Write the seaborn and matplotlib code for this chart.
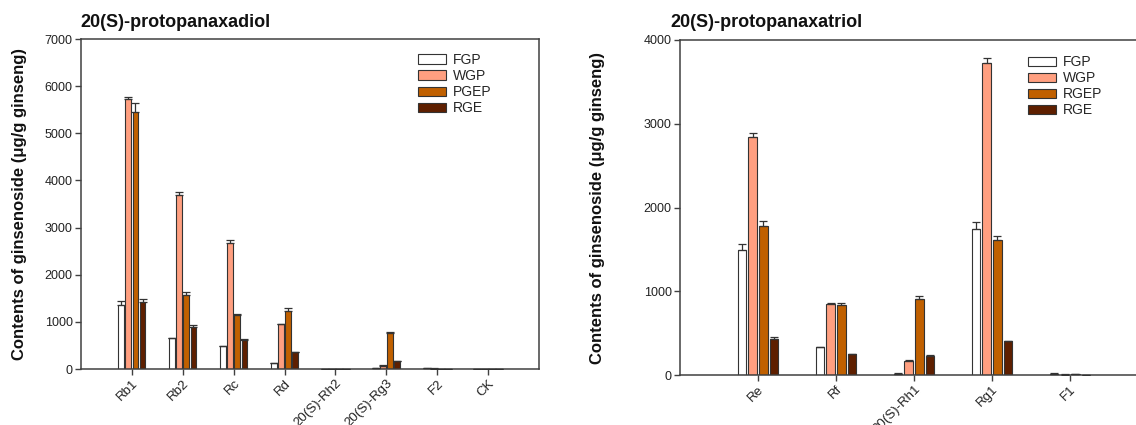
import numpy as np
import pandas as pd
import matplotlib
matplotlib.use("Agg")
import matplotlib.pyplot as plt
import seaborn as sns
from matplotlib.patches import Patch

# ---------------- data ----------------
ppd_categories = ["Rb1", "Rb2", "Rc", "Rd", "20(S)-Rh2", "20(S)-Rg3", "F2", "CK"]
ppd_groups = ["FGP", "WGP", "PGEP", "RGE"]
ppd_fgp = [1367, 652, 482, 120, 0, 20, 20, 2]
ppd_wgp = [5718, 3698, 2664, 949, 0, 55, 10, 3]
ppd_pgep = [5441, 1580, 1141, 1240, 0, 760, 5, 5]
ppd_rge = [1431, 886, 609, 361, 0, 165, 5, 3]
ppd_fgp_err = [85, 10, 14, 5, 0, 5, 5, 0]
ppd_wgp_err = [42, 57, 70, 7, 0, 20, 2, 0]
ppd_pgep_err = [206, 50, 28, 50, 0, 22, 2, 0]
ppd_rge_err = [50, 56, 36, 7, 0, 14, 2, 0]

ppt_categories = ["Re", "Rf", "20(S)-Rh1", "Rg1", "F1"]
ppt_groups = ["FGP", "WGP", "RGEP", "RGE"]
ppt_fgp = [1495, 334, 16, 1741, 15]
ppt_wgp = [2843, 847, 171, 3721, 5]
ppt_rgep = [1777, 839, 910, 1606, 8]
ppt_rge = [433, 250, 223, 406, 3]
ppt_fgp_err = [72, 4, 8, 84, 5]
ppt_wgp_err = [51, 8, 4, 60, 2]
ppt_rgep_err = [60, 16, 28, 48, 2]
ppt_rge_err = [16, 4, 20, 4, 1]

colors = ["#FFFFFF", "#FF9F80", "#C06000", "#5E1F00"]

ylabel = "Contents of ginsenoside (\u03bcg/g ginseng)"
title_left = "20(S)-protopanaxadiol"
title_right = "20(S)-protopanaxatriol"

# ---------------- style ----------------
sns.set_theme(style="ticks")
plt.rcParams["font.family"] = ["Liberation Sans", "DejaVu Sans"]
plt.rcParams["axes.edgecolor"] = "#404040"
plt.rcParams["axes.linewidth"] = 1.1
plt.rcParams["xtick.color"] = "#404040"
plt.rcParams["ytick.color"] = "#404040"
plt.rcParams["xtick.labelcolor"] = "#222222"
plt.rcParams["ytick.labelcolor"] = "#222222"

W, H = 1136, 425
fig = plt.figure(figsize=(W / 100, H / 100), dpi=100)
fig.patch.set_facecolor("white")


def px_axes(l, t, r, b):
    return fig.add_axes([l / W, 1 - b / H, (r - l) / W, (b - t) / H])


def make_df(cats, groups, vals, errs):
    rows = []
    for g, v, e in zip(groups, vals, errs):
        for c, vv, ee in zip(cats, v, e):
            rows.append({"cat": c, "grp": g, "val": vv, "err": ee})
    return pd.DataFrame(rows)


def draw_panel(ax, cats, groups, vals, errs, ymax, ystep, title, title_x,
               legend_xy, ylabel_x, gap):
    df = make_df(cats, groups, vals, errs)
    sns.barplot(data=df, x="cat", y="val", hue="grp", order=cats,
                hue_order=groups, palette=colors, width=0.56, gap=gap,
                edgecolor="#333333", linewidth=0.8, errorbar=None,
                legend=False, ax=ax, saturation=1)
    for cont, g in zip(ax.containers, groups):
        sub = df[df["grp"] == g].set_index("cat").loc[cats]
        xs = [p.get_x() + p.get_width() / 2 for p in cont.patches]
        ys = [p.get_height() for p in cont.patches]
        e = sub["err"].values
        ax.errorbar(xs, ys, yerr=[np.zeros_like(e), e], fmt="none",
                    ecolor="#333333", elinewidth=0.9, capsize=2.8,
                    capthick=0.9, zorder=3)
    ax.set_xlim(-1, len(cats))
    ax.set_ylim(0, ymax)
    ax.set_yticks(np.arange(0, ymax + 1, ystep))
    ax.set_xlabel("")
    ax.set_ylabel(ylabel, fontsize=12, fontweight="bold", color="#111111")
    ax.yaxis.set_label_coords(ylabel_x, 0.5)
    ax.tick_params(axis="y", labelsize=9, length=4, width=1, pad=2)
    ax.tick_params(axis="x", labelsize=9.5, length=4, width=1, pad=2)
    for lab in ax.get_xticklabels():
        lab.set_rotation(45)
        lab.set_ha("right")
        lab.set_rotation_mode("anchor")
    for s in ax.spines.values():
        s.set_visible(True)
    handles = [Patch(facecolor=c, edgecolor="#333333", linewidth=0.8, label=g)
               for c, g in zip(colors, groups)]
    ax.legend(handles=handles, loc="upper left", bbox_to_anchor=legend_xy,
              frameon=False, fontsize=10, handlelength=2.0, handleheight=0.65,
              labelspacing=0.15, handletextpad=0.5, borderpad=0,
              borderaxespad=0)
    fig.text(title_x / W, 1 - 27 / H, title, fontsize=13, fontweight="bold",
             color="#111111", va="baseline", ha="left")


axL = px_axes(81, 39, 539, 369)
draw_panel(axL, ppd_categories, ppd_groups,
           [ppd_fgp, ppd_wgp, ppd_pgep, ppd_rge],
           [ppd_fgp_err, ppd_wgp_err, ppd_pgep_err, ppd_rge_err],
           7000, 1000, title_left, 80, (0.736, 0.958), -0.118, 0.2)

axR = px_axes(680, 40, 1148, 375)
draw_panel(axR, ppt_categories, ppt_groups,
           [ppt_fgp, ppt_wgp, ppt_rgep, ppt_rge],
           [ppt_fgp_err, ppt_wgp_err, ppt_rgep_err, ppt_rge_err],
           4000, 1000, title_right, 670, (0.744, 0.955), -0.160, 0.25)

fig.savefig("out.png", dpi=100, facecolor="white")
